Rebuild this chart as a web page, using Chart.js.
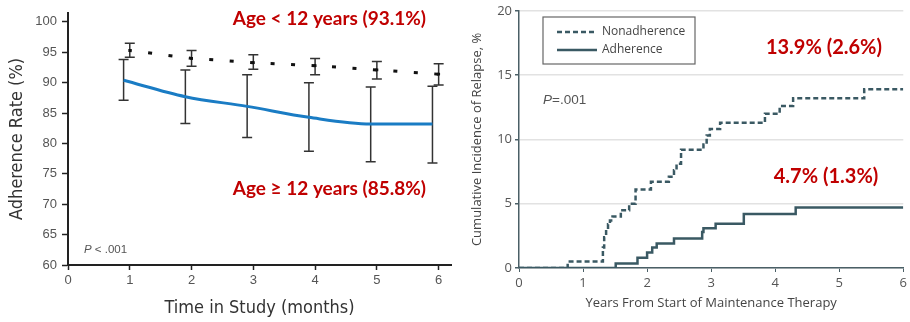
<!DOCTYPE html>
<html>
<head>
<meta charset="utf-8">
<script src="https://cdn.jsdelivr.net/npm/chart.js@4/dist/chart.umd.min.js"></script>
<style>
    body { margin: 0; background: #fff; width: 910px; height: 322px; overflow: hidden; position: relative; }
    .panel { position: absolute; top: 0; width: 455px; height: 322px; }
    #leftPanel { left: 0; }
    #rightPanel { left: 455px; }
</style>
</head>
<body>
<div class="panel" id="leftPanel"><canvas id="adherenceChart"></canvas></div>
<div class="panel" id="rightPanel"><canvas id="relapseChart"></canvas></div>
<script>
// ---- Left panel: adherence rate by month and age group ----
const studyMonths = [1, 2, 3, 4, 5, 6];
const studyMonthsOlder = [0.9, 1.9, 2.9, 3.9, 4.9, 5.9]; // older group is plotted slightly left
const youngerRate = [95.3, 94.0, 93.3, 92.8, 92.1, 91.4];
const youngerLow = [94.2, 92.7, 92.2, 91.3, 90.6, 89.6];
const youngerHigh = [96.5, 95.3, 94.6, 94.0, 93.5, 93.1];
const olderRate = [90.4, 87.7, 86.1, 84.3, 83.2, 83.2];
const olderLow = [87.1, 83.3, 81.0, 78.7, 77.0, 76.8];
const olderHigh = [93.8, 92.1, 91.3, 90.0, 89.3, 89.4];
const monthTicks = [0, 1, 2, 3, 4, 5, 6];
const rateTicks = [60, 65, 70, 75, 80, 85, 90, 95, 100];

// ---- Right panel: cumulative incidence of relapse ----
const nonadherenceYears = [0, 0.76, 1.31, 1.33, 1.36, 1.39, 1.42, 1.46, 1.59, 1.72, 1.82, 2.06, 2.34, 2.42, 2.46, 2.53, 2.88, 2.93, 2.98, 3.14, 3.84, 4.07, 4.28, 5.39, 6];
const nonadherenceIncidence = [0, 0.5, 1.6, 2.4, 3.0, 3.4, 3.7, 4.0, 4.5, 5.0, 6.1, 6.7, 7.1, 7.6, 8.1, 9.2, 9.6, 10.3, 10.8, 11.3, 12.0, 12.6, 13.2, 13.9, 13.9];
const adherenceYears = [0, 1.51, 1.85, 2.0, 2.08, 2.15, 2.42, 2.86, 2.88, 3.07, 3.51, 4.32, 6];
const adherenceIncidence = [0, 0.35, 0.8, 1.2, 1.6, 1.9, 2.3, 2.8, 3.1, 3.45, 4.2, 4.7, 4.7];
const yearTicks = [0, 1, 2, 3, 4, 5, 6];
const incidenceTicks = [0, 5, 10, 15, 20];

const RED = '#c00000';
const SLATE = '#3a5963';
const NARROW = "'Liberation Sans Narrow', 'DejaVu Sans Condensed', Arial, sans-serif";
const SANS = "'Liberation Sans', Arial, sans-serif";
const LABEL_FONT = "'Open Sans', 'Noto Sans', sans-serif";
const RED_FONT = "Lato, 'Open Sans', sans-serif";

const toPoints = (xs, ys) => xs.map((x, i) => ({ x, y: ys[i] }));
const keepTicks = list => scale => { scale.ticks = list.map(v => ({ value: v })); };

// error bars drawn from dataset errorLow / errorHigh through the chart scales
const errorBarPlugin = {
    id: 'errorBars',
    beforeDatasetsDraw(chart) {
        const { ctx, scales } = chart;
        chart.data.datasets.forEach(ds => {
            if (!ds.errorLow) return;
            ctx.save();
            ctx.strokeStyle = '#333';
            ctx.lineWidth = 1.5;
            ds.data.forEach((pt, i) => {
                const x = scales.x.getPixelForValue(pt.x);
                const yLo = scales.y.getPixelForValue(ds.errorLow[i]);
                const yHi = scales.y.getPixelForValue(ds.errorHigh[i]);
                ctx.beginPath();
                ctx.moveTo(x, yLo); ctx.lineTo(x, yHi);
                ctx.moveTo(x - 5, yLo); ctx.lineTo(x + 5, yLo);
                ctx.moveTo(x - 5, yHi); ctx.lineTo(x + 5, yHi);
                ctx.stroke();
            });
            ctx.restore();
        });
    }
};

function drawPValue(ctx, x, y, rest, size) {
    ctx.save();
    ctx.fillStyle = '#555';
    ctx.textBaseline = 'middle';
    ctx.textAlign = 'left';
    ctx.font = `italic ${size}px ${SANS}`;
    ctx.fillText('P', x, y);
    const w = ctx.measureText('P').width;
    ctx.font = `${size}px ${SANS}`;
    ctx.fillText(rest, x + w, y);
    ctx.restore();
}

function drawRedText(ctx, text, x, y, size, align) {
    ctx.save();
    ctx.fillStyle = RED;
    ctx.font = `bold ${size}px ${RED_FONT}`;
    ctx.textAlign = align;
    ctx.textBaseline = 'middle';
    ctx.fillText(text, x, y);
    ctx.restore();
}

const leftNotes = {
    id: 'leftNotes',
    afterDraw(chart) {
        const ctx = chart.ctx;
        drawRedText(ctx, 'Age < 12 years (93.1%)', 426, 19, 19, 'right');
        drawRedText(ctx, 'Age \u2265 12 years (85.8%)', 426, 189, 19, 'right');
        drawPValue(ctx, 84, 250, ' < .001', 11.5);
    }
};

const rightNotes = {
    id: 'rightNotes',
    afterDraw(chart) {
        const ctx = chart.ctx;
        drawRedText(ctx, '13.9% (2.6%)', 427, 48, 20, 'right');
        drawRedText(ctx, '4.7% (1.3%)', 371, 177, 20, 'center');
        drawPValue(ctx, 88, 100, '=.001', 13.5);

        // legend box
        ctx.save();
        ctx.strokeStyle = '#666';
        ctx.lineWidth = 1.2;
        ctx.strokeRect(88, 17, 152, 47);
        chart.data.datasets.forEach((ds, i) => {
            const y = 32 + i * 18;
            ctx.strokeStyle = ds.borderColor;
            ctx.lineWidth = ds.borderWidth;
            ctx.setLineDash(ds.borderDash || []);
            ctx.beginPath();
            ctx.moveTo(102, y); ctx.lineTo(142, y);
            ctx.stroke();
            ctx.setLineDash([]);
            ctx.fillStyle = '#444';
            ctx.font = `12px ${LABEL_FONT}`;
            ctx.textBaseline = 'middle';
            ctx.fillText(ds.label, 147, y);
        });
        ctx.restore();
    }
};

new Chart(document.getElementById('adherenceChart'), {
    type: 'line',
    data: {
        datasets: [{
            label: 'Age \u2265 12 years',
            data: toPoints(studyMonthsOlder, olderRate),
            errorLow: olderLow,
            errorHigh: olderHigh,
            borderColor: '#1a7cc4',
            borderWidth: 3,
            pointRadius: 0,
            cubicInterpolationMode: 'monotone'
        }, {
            label: 'Age < 12 years',
            data: toPoints(studyMonths, youngerRate),
            errorLow: youngerLow,
            errorHigh: youngerHigh,
            borderColor: '#111',
            borderWidth: 3,
            borderDash: [4, 16.5],
            borderDashOffset: 2,
            pointStyle: 'rect',
            pointRadius: 2,
            pointBackgroundColor: '#111',
            pointBorderWidth: 0
        }]
    },
    options: {
        responsive: true,
        maintainAspectRatio: false,
        animation: false,
        layout: { padding: 0 },
        plugins: { legend: { display: false }, tooltip: { enabled: false } },
        scales: {
            x: {
                type: 'linear',
                min: 0,
                max: 6.2,
                afterBuildTicks: keepTicks(monthTicks),
                afterFit: s => { s.height = 57; },
                border: { color: '#222', width: 2 },
                grid: { drawOnChartArea: false, tickColor: '#222', tickLength: 5, tickWidth: 1.5 },
                ticks: { color: '#555', font: { family: SANS, size: 13 }, padding: 3, maxRotation: 0 },
                title: { display: true, text: 'Time in Study (months)', color: '#333', font: { family: NARROW, size: 18 }, padding: { top: 0, bottom: 3 } }
            },
            y: {
                min: 60,
                max: 101.5,
                afterBuildTicks: keepTicks(rateTicks),
                afterFit: s => { s.width = 68; },
                border: { color: '#222', width: 2 },
                grid: { drawOnChartArea: false, tickColor: '#222', tickLength: 6, tickWidth: 1.5 },
                ticks: { color: '#555', font: { family: SANS, size: 13 }, padding: 5 },
                title: { display: true, text: 'Adherence Rate (%)', color: '#333', font: { family: NARROW, size: 18 }, padding: { top: 7, bottom: 0 } }
            }
        }
    },
    plugins: [errorBarPlugin, leftNotes]
});

new Chart(document.getElementById('relapseChart'), {
    type: 'line',
    data: {
        datasets: [{
            label: 'Nonadherence',
            data: toPoints(nonadherenceYears, nonadherenceIncidence),
            borderColor: SLATE,
            borderWidth: 2.5,
            borderDash: [5, 3],
            stepped: true,
            pointRadius: 0
        }, {
            label: 'Adherence',
            data: toPoints(adherenceYears, adherenceIncidence),
            borderColor: SLATE,
            borderWidth: 2.5,
            stepped: true,
            pointRadius: 0
        }]
    },
    options: {
        responsive: true,
        maintainAspectRatio: false,
        animation: false,
        layout: { padding: { top: 10, right: 4, left: 0, bottom: 0 } },
        plugins: { legend: { display: false }, tooltip: { enabled: false } },
        scales: {
            x: {
                type: 'linear',
                min: 0,
                max: 6,
                afterBuildTicks: keepTicks(yearTicks),
                afterFit: s => { s.height = 54; },
                border: { color: '#4a5f66', width: 1.5 },
                grid: { drawOnChartArea: false, tickColor: '#4a5f66', tickLength: 4 },
                ticks: { color: '#555', font: { family: LABEL_FONT, size: 13 }, padding: 3, maxRotation: 0 },
                title: { display: true, text: 'Years From Start of Maintenance Therapy', color: '#444', font: { family: LABEL_FONT, size: 13 }, padding: { top: 0, bottom: 11 } }
            },
            y: {
                min: 0,
                max: 20,
                afterBuildTicks: keepTicks(incidenceTicks),
                afterFit: s => { s.width = 64; },
                border: { color: '#4a5f66', width: 1.5 },
                grid: { color: '#e2e2e2', lineWidth: 1.5, tickColor: '#4a5f66', tickLength: 4 },
                ticks: { color: '#555', font: { family: LABEL_FONT, size: 13 }, padding: 3 },
                title: { display: true, text: 'Cumulative Incidence of Relapse, %', color: '#444', font: { family: LABEL_FONT, size: 13 }, padding: { top: 14, bottom: 0 } }
            }
        }
    },
    plugins: [rightNotes]
});
</script>
</body>
</html>
